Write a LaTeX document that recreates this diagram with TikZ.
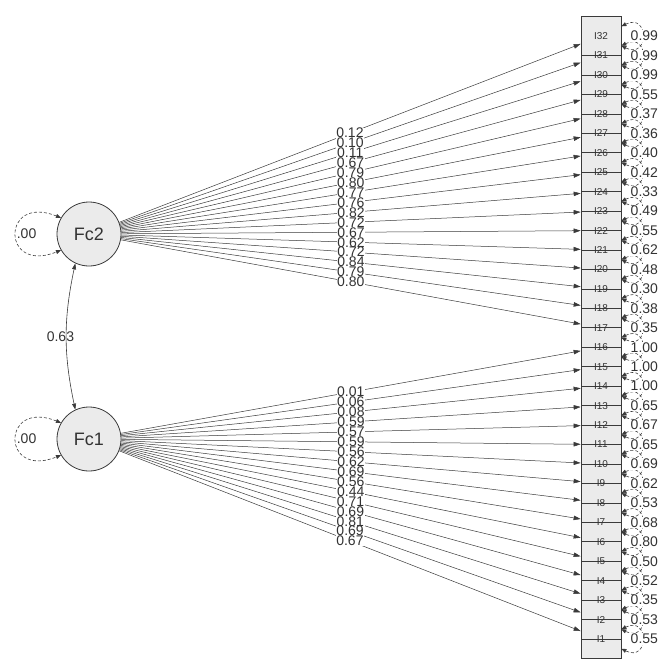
\documentclass[tikz,border=0pt]{standalone}
\usepackage{fontspec}
\setmainfont{Liberation Sans}
\usetikzlibrary{calc,arrows.meta}
\definecolor{SemLine}{HTML}{3A3A3A}
\definecolor{SemText}{HTML}{333333}
\definecolor{SemFill}{HTML}{EBEBEB}
\tikzset{
  latentNode/.style={circle, draw=SemLine, fill=SemFill, line width=0.8pt, minimum size=64pt, inner sep=0pt, font=\fontsize{18pt}{18pt}\selectfont, text=SemText},
  itemBox/.style={rectangle, draw=SemLine, fill=SemFill, line width=0.7pt, minimum width=40pt, minimum height=38.9pt, inner sep=0pt},
  itemLabel/.style={inner sep=0pt, font=\fontsize{10pt}{10pt}\selectfont, text=SemText},
  loading/.style={-{Triangle[length=7pt,width=4.5pt]}, draw=SemLine, line width=0.5pt},
  covArrow/.style={{Triangle[length=6pt,width=4pt]}-{Triangle[length=6pt,width=4pt]}, draw=SemLine, line width=0.6pt},
  varLoop/.style={{Triangle[length=5pt,width=4pt]}-{Triangle[length=5pt,width=4pt]}, draw=SemLine, dash pattern=on 3pt off 2pt, line width=0.6pt},
  estLabel/.style={fill=white, inner sep=0.6pt, font=\fontsize{14pt}{14pt}\selectfont, text=SemText}
}
\begin{document}
\begin{tikzpicture}[x=1pt, y=-1pt]
  \useasboundingbox (0,0) rectangle (671,667);

  % latent factors
  \node[latentNode] (Fc2) at (89,234) {Fc2};
  \node[latentNode] (Fc1) at (89,439) {Fc1};

  % items, drawn from the bottom up
  \foreach \k in {1,...,32}
    \node[itemBox] (I\k) at (601,{639-(\k-1)*19.45}) {};
  \foreach \k in {1,...,32}
    \node[itemLabel] at (I\k) {I\k};

  % residual variances
  \foreach \k in {1,...,32}
    \draw[varLoop] ($(I\k.east)+(0,-9.7)$) .. controls +(28,-14) and +(28,14) .. ($(I\k.east)+(0,9.7)$);
  \foreach \k/\r in {1/0.55,2/0.53,3/0.35,4/0.52,5/0.50,6/0.80,7/0.68,8/0.53,9/0.62,10/0.69,11/0.65,12/0.67,13/0.65,14/1.00,15/1.00,16/1.00,
                     17/0.35,18/0.38,19/0.30,20/0.48,21/0.62,22/0.55,23/0.49,24/0.33,25/0.42,26/0.40,27/0.36,28/0.37,29/0.55,30/0.99,31/0.99,32/0.99}
    \node[estLabel] at ($(I\k.east)+(23,0)$) {\r};

  % loadings
  \foreach \k in {17,...,32}
    \draw[loading] (Fc2) -- (I\k);
  \foreach \k in {1,...,16}
    \draw[loading] (Fc1) -- (I\k);
  \foreach \k/\v in {32/0.12,31/0.10,30/0.11,29/0.67,28/0.79,27/0.80,26/0.77,25/0.76,24/0.82,23/0.72,22/0.67,21/0.62,20/0.72,19/0.84,18/0.79,17/0.80}
    \path (Fc2) -- (I\k) node[midway, estLabel] {\v};
  \foreach \k/\v in {16/0.01,15/0.06,14/0.08,13/0.59,12/0.57,11/0.59,10/0.56,9/0.62,8/0.69,7/0.56,6/0.44,5/0.71,4/0.69,3/0.81,2/0.69,1/0.67}
    \path (Fc1) -- (I\k) node[midway, estLabel] {\v};

  % factor variances and covariance
  \draw[varLoop] (Fc2.150) .. controls +(-60,-24) and +(-60,24) .. (Fc2.210) node[pos=0.5, anchor=west, estLabel] {.00};
  \draw[varLoop] (Fc1.150) .. controls +(-60,-24) and +(-60,24) .. (Fc1.210) node[pos=0.5, anchor=west, estLabel] {.00};
  \draw[covArrow] (Fc2.245) to[bend right=12] node[pos=0.5, estLabel, fill=none, xshift=-6pt] {0.63} (Fc1.115);
\end{tikzpicture}
\end{document}
